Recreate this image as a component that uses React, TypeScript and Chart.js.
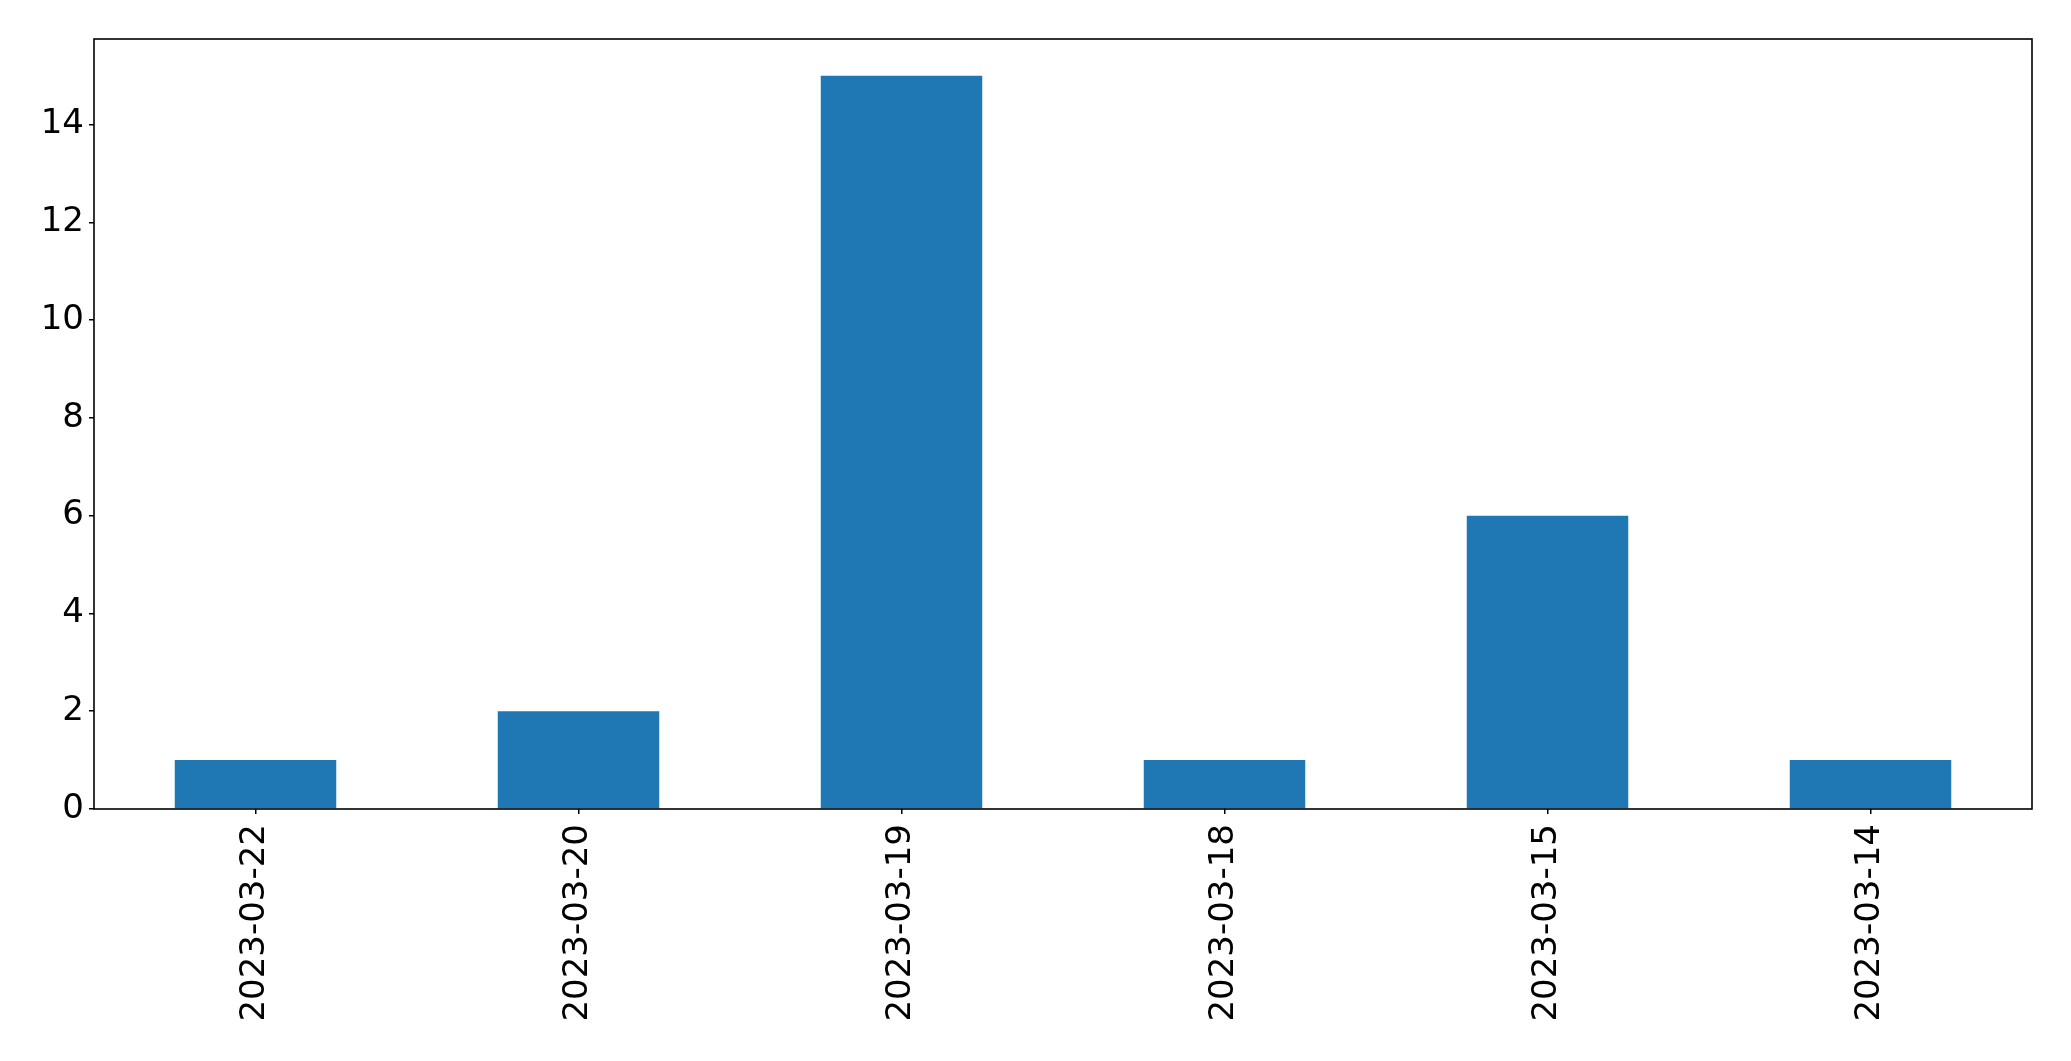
import React, { useEffect, useRef } from "react";
import { Chart, registerables } from "chart.js";

Chart.register(...registerables);

const categories = ["2023-03-22", "2023-03-20", "2023-03-19", "2023-03-18", "2023-03-15", "2023-03-14"];
const counts = [1, 2, 15, 1, 6, 1];
const yTickValues = [0, 2, 4, 6, 8, 10, 12, 14];
const yMax = 15.75;

const W = 2071;
const H = 1061;
const PLOT_LEFT = 94;
const PLOT_RIGHT = 2032;
const PLOT_TOP = 39;
const PLOT_BOTTOM = 809;

const boxPlugin = {
  id: "boxPlugin",
  afterDraw(chart: any) {
    const { ctx, chartArea } = chart;
    ctx.save();
    ctx.strokeStyle = "#000";
    ctx.lineWidth = 1.6;
    ctx.strokeRect(chartArea.left, chartArea.top, chartArea.right - chartArea.left, chartArea.bottom - chartArea.top);
    ctx.restore();
  },
};

export default function App() {
  const ref = useRef<HTMLCanvasElement>(null);
  useEffect(() => {
    if (!ref.current) return;
    const font = { family: "'DejaVu Sans', sans-serif", size: 34 };
    const chart = new Chart(ref.current, {
      type: "bar",
      data: {
        labels: categories,
        datasets: [
          {
            data: counts,
            backgroundColor: "#1f77b4",
            borderWidth: 0,
            categoryPercentage: 1,
            barPercentage: 0.5,
          },
        ],
      },
      options: {
        responsive: false,
        animation: false,
        devicePixelRatio: 1,
        layout: { padding: { top: PLOT_TOP, right: W - PLOT_RIGHT, left: 0, bottom: 0 } },
        plugins: { legend: { display: false }, tooltip: { enabled: false } },
        scales: {
          x: {
            offset: true,
            grid: { display: true, drawOnChartArea: false, drawTicks: true, tickLength: 5, color: "#000", lineWidth: 1.5, offset: false },
            border: { display: false },
            ticks: { color: "#000", font, minRotation: 90, maxRotation: 90, autoSkip: false, padding: 10 },
            afterFit(scale: any) {
              scale.height = H - PLOT_BOTTOM;
            },
          },
          y: {
            min: 0,
            max: yMax,
            grid: { display: true, drawOnChartArea: false, drawTicks: true, tickLength: 5, color: "#000", lineWidth: 1.5 },
            border: { display: false },
            ticks: { color: "#000", font, padding: 5 },
            afterBuildTicks(scale: any) {
              scale.ticks = yTickValues.map((v) => ({ value: v }));
            },
            afterFit(scale: any) {
              scale.width = PLOT_LEFT;
            },
          },
        },
      },
      plugins: [boxPlugin],
    });
    return () => chart.destroy();
  }, []);
  return (
    <div style={{ position: "fixed", left: 0, top: 0, width: W, height: H, background: "#fff" }}>
      <canvas ref={ref} width={W} height={H} style={{ display: "block", width: W, height: H }} />
    </div>
  );
}
